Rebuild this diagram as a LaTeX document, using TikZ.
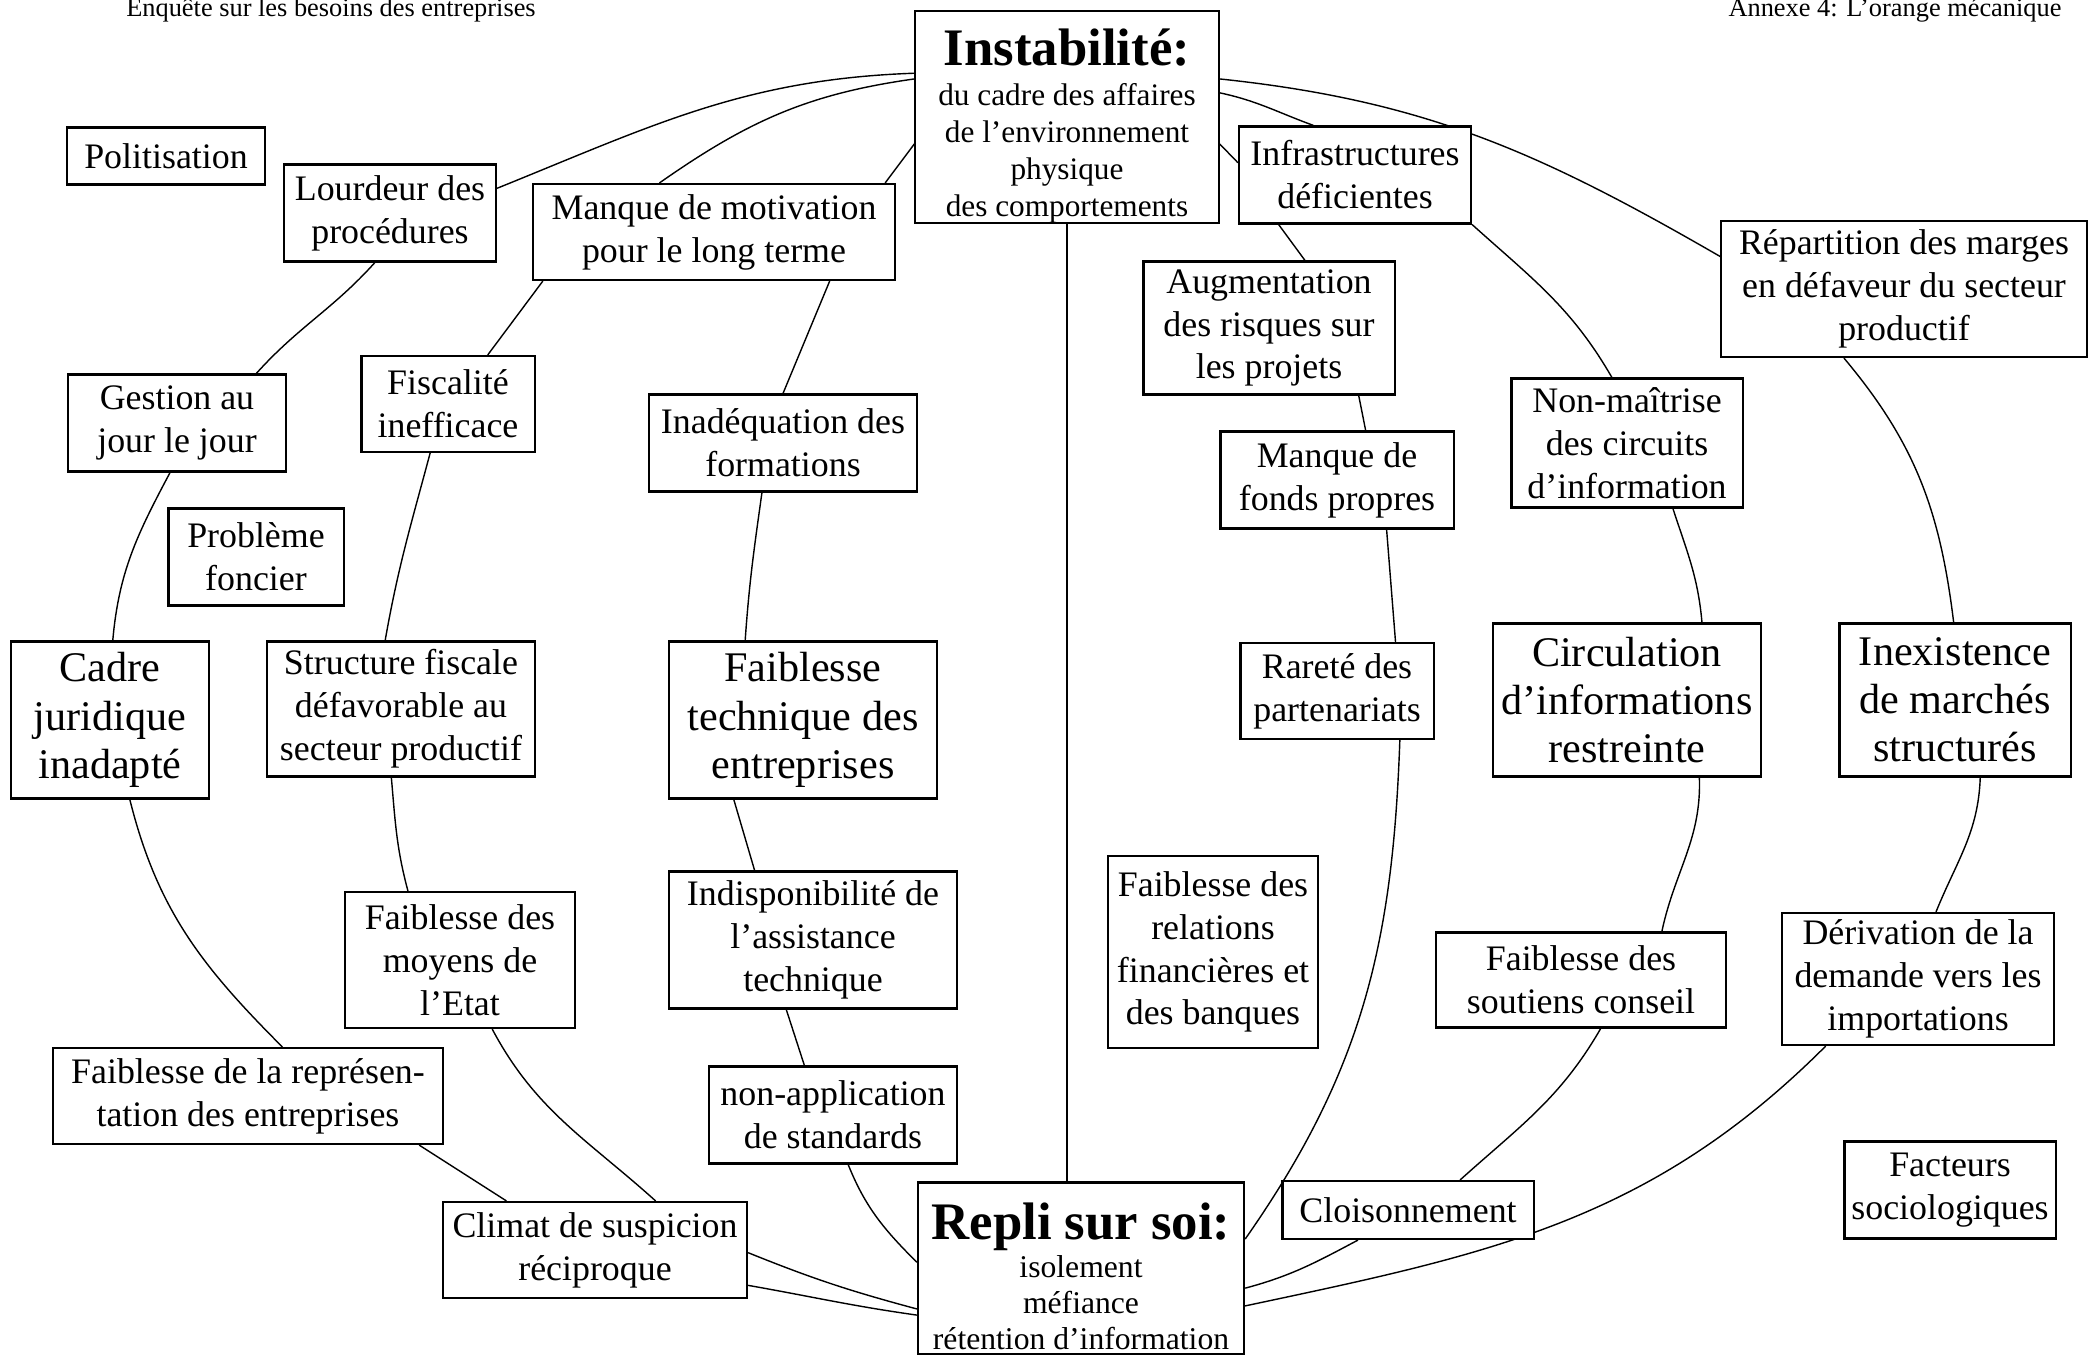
\documentclass[tikz,border=0pt]{standalone}
\usepackage{fontspec}
\setmainfont{Liberation Serif}
\usetikzlibrary{backgrounds}

\begin{document}
\begin{tikzpicture}[
  x=0.01cm, y=-0.01cm,
  every node/.style={draw, fill=white, align=center, inner sep=0pt, line width=0.6pt,
    font=\fontsize{10.2}{12.2}\selectfont},
  boxsize/.style 2 args={minimum width=#1cm, minimum height=#2cm},
  big/.style={font=\fontsize{12}{13.7}\selectfont},
  head/.style={draw=none, fill=none, anchor=base, font=\fontsize{7.5}{9}\selectfont},
  link/.style={line width=0.45pt}
]
\useasboundingbox (0,0) rectangle (2098,1358);

% Nodes
\node (enquete) [head] at (331,17) {Enquête sur les besoins des entreprises};
\node (annexe) [head] at (1895,17) {Annexe 4: L’orange mécanique};

\node (instab) [boxsize={3.03}{2.12}, font=\fontsize{8.9}{10.5}\selectfont] at (1067,117)
  {{\rule{0pt}{15.5pt}\fontsize{15}{17}\selectfont\bfseries Instabilité:}\\[1pt] du cadre des affaires\\ de l’environnement\\ physique\\ des comportements};
\node (politis) [boxsize={1.98}{0.57}] at (166,156) {Politisation};
\node (lourd) [boxsize={2.12}{0.97}] at (390,213) {Lourdeur des\\procédures};
\node (motiv) [boxsize={3.62}{0.96}] at (714,232) {Manque de motivation\\pour le long terme};
\node (infra) [boxsize={2.32}{0.97}] at (1355,175) {Infrastructures\\déficientes};
\node (repart) [boxsize={3.65}{1.36}] at (1904,289) {Répartition des marges\\en défaveur du secteur\\productif};
\node (augm) [boxsize={2.51}{1.33}] at (1269,328) {Augmentation\\des risques sur\\les projets};
\node (gestion) [boxsize={2.17}{0.97}] at (177,423) {Gestion au\\jour le jour};
\node (fiscal) [boxsize={1.73}{0.96}] at (448,404) {Fiscalité\\inefficace};
\node (inadeq) [boxsize={2.68}{0.97}] at (783,443) {Inadéquation des\\formations};
\node (nonmait) [boxsize={2.31}{1.29}] at (1627,443) {Non-maîtrise\\des circuits\\d’information};
\node (fonds) [boxsize={2.33}{0.97}] at (1337,480) {Manque de\\fonds propres};
\node (foncier) [boxsize={1.75}{0.97}] at (256,557) {Problème\\foncier};
\node (cadre) [boxsize={1.98}{1.57}, big] at (110,720) {Cadre\\juridique\\inadapté};
\node (structfisc) [boxsize={2.68}{1.35}] at (401,709) {Structure fiscale\\défavorable au\\secteur productif};
\node (technique) [boxsize={2.68}{1.57}, big] at (803,720) {Faiblesse\\technique des\\entreprises};
\node (rarete) [boxsize={1.93}{0.96}] at (1337,691) {Rareté des\\partenariats};
\node (circul) [boxsize={2.68}{1.53}, big] at (1627,700) {Circulation\\d’informations\\restreinte};
\node (inexist) [boxsize={2.31}{1.53}, big] at (1955,700) {Inexistence\\de marchés\\structurés};
\node (relfin) [boxsize={2.10}{1.92}] at (1213,952) {Faiblesse des\\relations\\financières et\\des banques};
\node (moyens) [boxsize={2.30}{1.36}] at (460,960) {Faiblesse des\\moyens de\\l’Etat};
\node (indispo) [boxsize={2.88}{1.37}] at (813,940) {Indisponibilité de\\l’assistance\\technique};
\node (soutiens) [boxsize={2.90}{0.95}] at (1581,980) {Faiblesse des\\soutiens conseil};
\node (derivation) [boxsize={2.72}{1.32}] at (1918,979) {Dérivation de la\\demande vers les\\importations};
\node (represent) [boxsize={3.89}{0.96}] at (248,1096) {Faiblesse de la représen-\\tation des entreprises};
\node (nonappli) [boxsize={2.48}{0.97}] at (833,1115) {non-application\\de standards};
\node (facteurs) [boxsize={2.11}{0.97}] at (1950,1190) {Facteurs\\sociologiques};
\node (climat) [boxsize={3.04}{0.96}] at (595,1250) {Climat de suspicion\\réciproque};
\node (repli) [boxsize={3.26}{1.71}, font=\fontsize{9}{10.2}\selectfont] at (1081,1268)
  {{\rule{0pt}{15pt}\fontsize{15}{17}\selectfont\bfseries Repli sur soi:}\\[0.6pt] isolement\\ méfiance\\ rétention d’information};
\node (cloison) [boxsize={2.51}{0.58}] at (1408,1210) {Cloisonnement};

% Links
\begin{scope}[on background layer, link]
\draw (instab.164) to[out=182, in=22] (lourd.13);
\draw (instab.166) to[out=188, in=35] (motiv.138);
\draw (instab.190) -- (motiv.16);
\draw (lourd.253) to[out=228, in=48] (gestion.32);
\draw (gestion.262) to[out=242, in=85] (cadre.88);
\draw (cadre.284) to[out=-76, in=135] (represent.55);
\draw (represent.-16) -- (climat.151);
\draw (climat.-1) to[out=-22, in=165] (repli.194);
\draw (climat.-13) to[out=-10, in=172] (repli.196);
\draw (motiv.196) -- (fiscal.51);
\draw (fiscal.250) to[out=255, in=80] (structfisc.103);
\draw (structfisc.262) to[out=-85, in=105] (moyens.127);
\draw (moyens.295) to[out=-62, in=138] (climat.39);
\draw (motiv.337) -- (inadeq.90);
\draw (inadeq.247) to[out=-98, in=86] (technique.126);
\draw (technique.229) -- (indispo.130);
\draw (indispo.249) -- (nonappli.120);
\draw (nonappli.287) to[out=-68, in=135] (repli.178);
\draw (instab.south) -- (instab.south |- repli.north);
% right half
\draw (instab.14) to[out=-6, in=150] (repart.170);
\draw (instab.9) to[out=-12, in=160] (infra.130);
\draw (instab.350) -- (infra.174);
\draw (infra.213) -- (augm.62);
\draw (augm.323) -- (fonds.60);
\draw (fonds.315) -- (rarete.40);
\draw (rarete.322) to[out=-92, in=55] (repli.10);
\draw (infra.south east) to[out=-42, in=120] (nonmait.103);
\draw (nonmait.305) to[out=-72, in=95] (circul.46);
\draw (circul.313) to[out=-88, in=78] (soutiens.31);
\draw (soutiens.292) to[out=240, in=42] (cloison.30);
\draw (cloison.211) to[out=208, in=15] (repli.353);
\draw (repart.229) to[out=-50, in=97] (inexist.91);
\draw (inexist.288) to[out=-92, in=68] (derivation.75);
\draw (derivation.216) to[out=225, in=12] (repli.347);
\end{scope}
\end{tikzpicture}
\end{document}
